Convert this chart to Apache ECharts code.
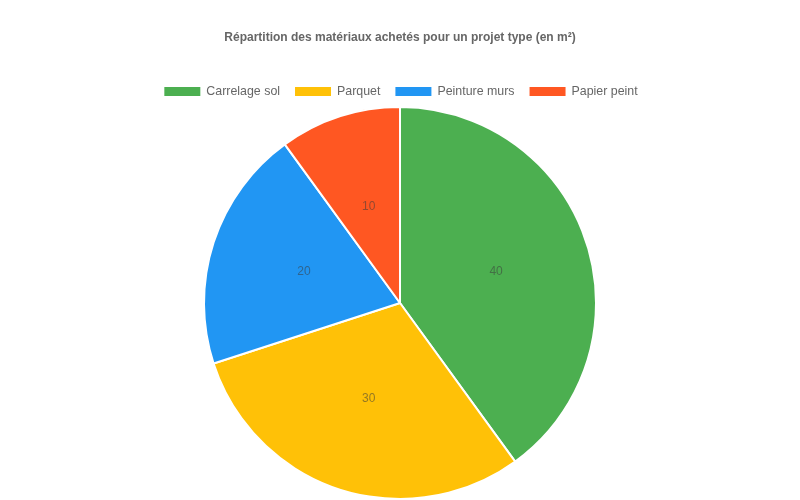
<!DOCTYPE html>
<html>
<head>
<meta charset="utf-8">
<script src="https://cdn.jsdelivr.net/npm/echarts@6/dist/echarts.min.js"></script>
<style>
    html, body { margin: 0; padding: 0; background: #fff; }
    #chart { width: 800px; height: 500px; }
</style>
</head>
<body>
<div id="chart"></div>
<script>
    // données du graphique
    let categories = ['Carrelage sol', 'Parquet', 'Peinture murs', 'Papier peint'];
    let values = [40, 30, 20, 10];
    let colors = ['#4CAF50', '#FFC107', '#2196F3', '#FF5722'];

    let myChart = echarts.init(document.getElementById('chart'));

    let option = {
        color: colors,
        textStyle: { fontFamily: 'Liberation Sans, Arial, sans-serif' },
        title: {
            text: 'Répartition des matériaux achetés pour un projet type (en m²)',
            left: 'center',
            top: 27,
            textStyle: { fontSize: 12, fontWeight: 'bold', color: '#666' }
        },
        legend: {
            top: 80,
            left: 'center',
            itemWidth: 38,
            itemHeight: 11,
            itemGap: 13,
            icon: 'rect',
            textStyle: { fontSize: 12.4, color: '#666' },
            data: categories
        },
        series: [
            {
                name: 'Matériaux',
                type: 'pie',
                radius: ['0%', 196],
                center: [400, 303],
                startAngle: 90,
                clockwise: true,
                label: {
                    show: true,
                    position: 'inside',
                    formatter: '{c}',
                    color: 'rgba(60,60,60,0.55)',
                    fontSize: 12
                },
                labelLine: { show: false },
                itemStyle: { borderColor: '#fff', borderWidth: 2 },
                emphasis: { scale: false },
                data: categories.map(function (name, i) {
                    return { name: name, value: values[i] };
                })
            }
        ]
    };

    myChart.setOption(option);
</script>
</body>
</html>
